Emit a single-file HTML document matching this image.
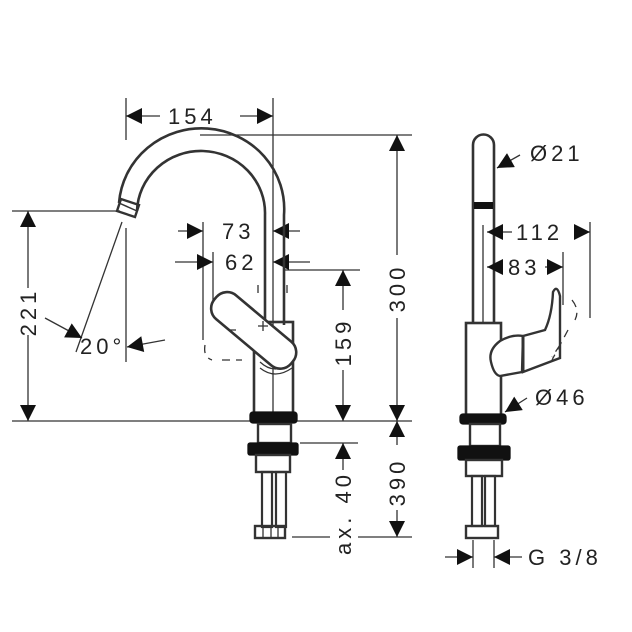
<!DOCTYPE html>
<html><head><meta charset="utf-8"><style>
html,body{margin:0;padding:0;background:#fff}
svg{display:block}
text{font-family:"Liberation Sans",sans-serif;font-size:22px;fill:#222;letter-spacing:4px}
</style></head><body>
<svg width="632" height="632" viewBox="0 0 632 632" xmlns="http://www.w3.org/2000/svg">
<defs>
<marker id="a" viewBox="0 0 10 10" refX="10" refY="5" markerWidth="17" markerHeight="16" markerUnits="userSpaceOnUse" orient="auto"><path d="M0,0L10,5L0,10z" fill="#111"/></marker>
</defs>
<g stroke="#333" stroke-width="1.3" fill="none">
<line x1="126" y1="98" x2="126" y2="140"/>
<line x1="126" y1="228" x2="126" y2="362"/>
<line x1="273" y1="98" x2="273" y2="330"/>
<line x1="200" y1="135" x2="412" y2="135"/>
<line x1="12" y1="211" x2="120" y2="211"/>
<line x1="12" y1="421" x2="412" y2="421"/>
<line x1="285" y1="270" x2="360" y2="270"/>
<line x1="300" y1="443" x2="358" y2="443"/>
<line x1="292" y1="537" x2="330" y2="537"/>
<line x1="358" y1="537" x2="412" y2="537"/>
<line x1="203" y1="222" x2="203" y2="340"/>
<line x1="213" y1="252" x2="213" y2="300"/>
<line x1="122" y1="222" x2="76" y2="352"/>
<line x1="160" y1="116" x2="126" y2="116" marker-end="url(#a)"/>
<line x1="240" y1="116" x2="273" y2="116" marker-end="url(#a)"/>
<line x1="28" y1="288" x2="28" y2="211" marker-end="url(#a)"/>
<line x1="28" y1="335" x2="28" y2="421" marker-end="url(#a)"/>
<line x1="45" y1="318" x2="82" y2="338" marker-end="url(#a)"/>
<line x1="165" y1="340" x2="127" y2="347" marker-end="url(#a)"/>
<line x1="397" y1="255" x2="397" y2="135" marker-end="url(#a)"/>
<line x1="397" y1="318" x2="397" y2="421" marker-end="url(#a)"/>
<line x1="178" y1="231" x2="203" y2="231" marker-end="url(#a)"/>
<line x1="300" y1="231" x2="273" y2="231" marker-end="url(#a)"/>
<line x1="175" y1="262" x2="213" y2="262" marker-end="url(#a)"/>
<line x1="310" y1="262" x2="273" y2="262" marker-end="url(#a)"/>
<line x1="343" y1="310" x2="343" y2="270" marker-end="url(#a)"/>
<line x1="343" y1="370" x2="343" y2="421" marker-end="url(#a)"/>
<line x1="343" y1="470" x2="343" y2="443" marker-end="url(#a)"/>
<line x1="397" y1="445" x2="397" y2="421" marker-end="url(#a)"/>
<line x1="397" y1="510" x2="397" y2="537" marker-end="url(#a)"/>
<path d="M119,203 A82,80 0 0 1 284,215 L284,325" stroke-width="2.6"/>
<path d="M137,211 A64,62 0 0 1 265,215 L265,322" stroke-width="2.6"/>
<path d="M117,211 L121,199 L139,205 L135,217 Z" stroke-width="2.4"/>
<line x1="119" y1="203" x2="137" y2="211" stroke-width="1.5"/>
<rect x="254" y="322" width="39" height="96" stroke-width="2.6"/>
<line x1="273" y1="330" x2="273" y2="418"/>
<rect x="250" y="412" width="47" height="11" rx="3" fill="#111" stroke="#111"/>
<path d="M262,356 Q275,370 290,356 M260,362 Q275,376 292,362 M260,368 Q275,380 292,368" stroke-width="1.2"/>
<g transform="rotate(40 254 330)"><rect x="204" y="315" width="100" height="31" rx="14" fill="#fff" stroke-width="2.6"/></g>
<path d="M258,326 h10 M263,321 v10"/>
<path d="M205,345 Q203,357 212,360 M222,360 h20 M228,330 h10 M258,285 v10 M287,285 v10" stroke-dasharray="8 6"/>
<rect x="258" y="424" width="33" height="19" stroke-width="2.4"/>
<rect x="248" y="443" width="50" height="12" rx="2" fill="#111" stroke="#111"/>
<rect x="256" y="455" width="34" height="17" stroke-width="2.4"/>
<rect x="262" y="472" width="10" height="55" stroke-width="2.2"/>
<rect x="276" y="472" width="10" height="55" stroke-width="2.2"/>
<rect x="255" y="526" width="30" height="12" stroke-width="2.4"/>
<line x1="263" y1="526" x2="263" y2="538"/><line x1="271" y1="526" x2="271" y2="538"/><line x1="278" y1="526" x2="278" y2="538"/>
<path d="M473,323 L473,145 A10.5,10.5 0 0 1 494,145 L494,323" stroke-width="2.6"/>
<rect x="474" y="202" width="19" height="7" fill="#111" stroke="none"/>
<line x1="483" y1="225" x2="483" y2="323"/>
<rect x="466" y="323" width="35" height="93" stroke-width="2.6"/>
<rect x="460" y="414" width="46" height="10" rx="3" fill="#111" stroke="#111"/>
<rect x="470" y="424" width="30" height="22" stroke-width="2.4"/>
<rect x="458" y="446" width="52" height="14" rx="2" fill="#111" stroke="#111"/>
<rect x="466" y="460" width="36" height="16" stroke-width="2.4"/>
<rect x="472" y="476" width="10" height="50" stroke-width="2.2"/>
<rect x="485" y="476" width="10" height="50" stroke-width="2.2"/>
<rect x="466" y="526" width="32" height="12" stroke-width="2.4"/>
<path d="M500,341 Q488,350 491,362 Q494,375 500,376 L522,372 L523,336 Q512,334 500,341Z" stroke-width="2.4" fill="#fff"/>
<path d="M523,336 L545,330 Q552,315 553,292 Q557,284 560,296 L560,358 L523,372 Z" stroke-width="2.4"/>
<line x1="523" y1="336" x2="523" y2="372" stroke-width="3"/>
<path d="M572,300 Q580,310 575,320 M568,330 L552,360 M560,345 l-8,12" stroke-dasharray="8 6"/>
<line x1="590" y1="222" x2="590" y2="318"/>
<line x1="563" y1="252" x2="563" y2="305"/>
<line x1="473" y1="540" x2="473" y2="568"/>
<line x1="494" y1="540" x2="494" y2="568"/>
<line x1="520" y1="155" x2="497" y2="168" marker-end="url(#a)"/>
<line x1="512" y1="232" x2="487" y2="232" marker-end="url(#a)"/>
<line x1="575" y1="232" x2="590" y2="232" marker-end="url(#a)"/>
<line x1="500" y1="267" x2="487" y2="267" marker-end="url(#a)"/>
<line x1="545" y1="267" x2="563" y2="267" marker-end="url(#a)"/>
<line x1="527" y1="398" x2="505" y2="412" marker-end="url(#a)"/>
<line x1="445" y1="557" x2="473" y2="557" marker-end="url(#a)"/>
<line x1="522" y1="557" x2="494" y2="557" marker-end="url(#a)"/>
</g>
<text x="168" y="124">154</text>
<text x="222" y="239">73</text>
<text x="225" y="270">62</text>
<text x="80" y="354">20°</text>
<text transform="translate(36,312) rotate(-90)" text-anchor="middle">221</text>
<text transform="translate(405,288) rotate(-90)" text-anchor="middle">300</text>
<text transform="translate(351,342) rotate(-90)" text-anchor="middle">159</text>
<text transform="translate(351,555) rotate(-90)">ax. 40</text>
<text transform="translate(405,482) rotate(-90)" text-anchor="middle">390</text>
<text x="530" y="161">Ø21</text>
<text x="516" y="240">112</text>
<text x="508" y="275">83</text>
<text x="535" y="405">Ø46</text>
<text x="528" y="565">G 3/8</text>
</svg>
</body></html>
